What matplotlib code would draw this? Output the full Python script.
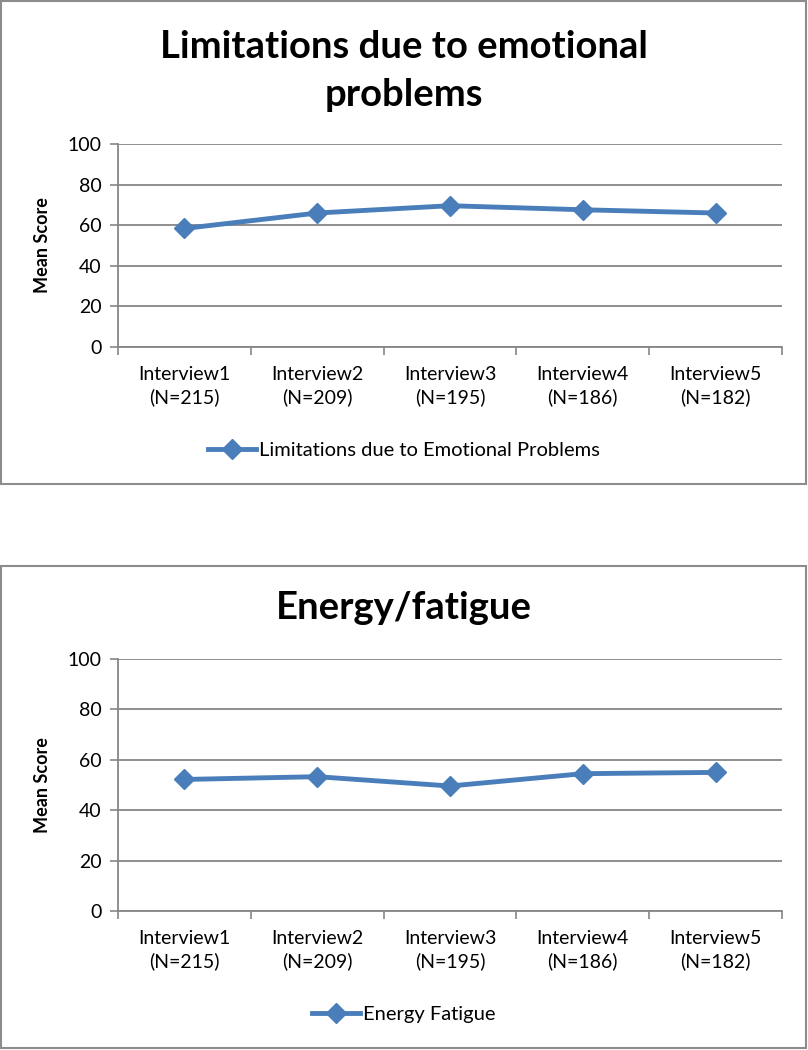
import matplotlib.pyplot as plt
from matplotlib.patches import Rectangle

# --- data ---
categories = ['Interview1\n(N=215)', 'Interview2\n(N=209)', 'Interview3\n(N=195)',
              'Interview4\n(N=186)', 'Interview5\n(N=182)']
emotional = [58.4, 66.0, 69.6, 67.6, 66.0]
energy = [52.2, 53.3, 49.6, 54.5, 55.0]
y_ticks = [0, 20, 40, 60, 80, 100]

plt.rcParams['font.family'] = ['Lato', 'DejaVu Sans']

W, H = 808, 1050
fig = plt.figure(figsize=(W / 100, H / 100), dpi=100)

blue = '#4A7EBB'
grid_c = '#868686'


def px_box(x0, y0, x1, y1):
    # convert pixel box (top-left origin) to figure fraction [l, b, w, h]
    return [x0 / W, 1 - y1 / H, (x1 - x0) / W, (y1 - y0) / H]


def draw_panel(top, bottom, title_lines, values, label):
    # outer border
    fig.patches.append(Rectangle((1 / W, 1 - bottom / H), (W - 3) / W, (bottom - top) / H,
                                 transform=fig.transFigure, fill=False,
                                 edgecolor='#8c8c8c', linewidth=1.5))
    for text, ty in title_lines:
        fig.text(0.5, 1 - ty / H, text, ha='center', va='center',
                 fontsize=27.5, fontweight='bold')

    ax_top = top + (143 if len(title_lines) > 1 else 93)
    ax_bot = ax_top + (203 if len(title_lines) > 1 else 252)
    ax = fig.add_axes(px_box(118, ax_top, 782, ax_bot))
    x = list(range(1, len(values) + 1))
    ax.plot(x, values, color=blue, linewidth=3.5, marker='D', markersize=10,
            label=label, zorder=3)
    ax.set_xlim(0.5, len(values) + 0.5)
    ax.set_ylim(0, 100)
    ax.set_yticks(y_ticks)
    ax.set_yticklabels([str(v) for v in y_ticks], fontsize=14)
    ax.set_xticks(x)
    ax.set_xticklabels(categories, fontsize=14, linespacing=1.3)
    ax.set_xticks([i + 0.5 for i in range(len(values) + 1)], minor=True)
    ax.tick_params(axis='x', which='major', length=0, pad=14)
    ax.tick_params(axis='x', which='minor', length=6, color=grid_c, width=1.2)
    ax.tick_params(axis='y', length=6, color=grid_c, width=1.2, pad=6)
    ax.yaxis.grid(True, color=grid_c, linewidth=1.3)
    ax.set_axisbelow(True)
    for s in ['top', 'right']:
        ax.spines[s].set_visible(False)
    for s in ['left', 'bottom']:
        ax.spines[s].set_color(grid_c)
        ax.spines[s].set_linewidth(1.3)
    ax.set_ylabel('Mean Score', fontsize=13, fontweight='bold', labelpad=12)
    leg_y = bottom - 34
    ax.legend(loc='center', bbox_to_anchor=(0.5, 1 - leg_y / H),
              bbox_transform=fig.transFigure, frameon=False, fontsize=14.5,
              handlelength=2.4, handletextpad=0.15)
    return ax


draw_panel(1, 484, [('Limitations due to emotional', 47), ('problems', 95)],
           emotional, 'Limitations due to Emotional Problems')
draw_panel(566, 1048, [('Energy/fatigue', 608)], energy, 'Energy Fatigue')

fig.savefig('out.png', dpi=100)
